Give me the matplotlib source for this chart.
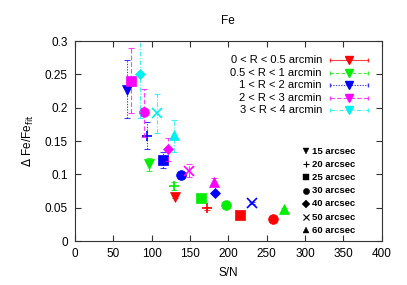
import matplotlib
matplotlib.use("Agg")
import matplotlib.pyplot as plt

plt.rcParams['font.family'] = ['Liberation Sans', 'DejaVu Sans']

# ---- data ----
region_labels = ["0 < R < 0.5 arcmin", "0.5 < R < 1 arcmin", "1 < R < 2 arcmin",
                 "2 < R < 3 arcmin", "3 < R < 4 arcmin"]
arcsec_labels = ["15 arcsec", "20 arcsec", "25 arcsec", "30 arcsec",
                 "40 arcsec", "50 arcsec", "60 arcsec"]

# per region: arcsec bin, S/N, value, lower error, upper error
red_bin = [15, 20, 25, 30]
red_snr = [130.4, 171.7, 215.5, 257.7]
red_val = [0.0665, 0.049, 0.039, 0.0325]
red_elo = [0.002, 0.002, 0.0015, 0.0015]
red_ehi = [0.002, 0.002, 0.0015, 0.0015]

green_bin = [15, 20, 25, 30, 60]
green_snr = [96.9, 128.6, 164.3, 196.4, 272.9]
green_val = [0.115, 0.083, 0.065, 0.054, 0.048]
green_elo = [0.0095, 0.0065, 0.002, 0.002, 0.002]
green_ehi = [0.009, 0.005, 0.002, 0.002, 0.002]

blue_bin = [15, 20, 25, 30, 40, 50]
blue_snr = [67.4, 94.3, 114.3, 138.2, 182.0, 230.8]
blue_val = [0.2265, 0.1575, 0.1215, 0.0985, 0.0725, 0.057]
blue_elo = [0.0415, 0.0195, 0.0125, 0.006, 0.003, 0.002]
blue_ehi = [0.0455, 0.0205, 0.0115, 0.0055, 0.003, 0.002]

magenta_bin = [25, 30, 40, 50, 60]
magenta_snr = [73.0, 90.4, 121.7, 149.0, 181.6]
magenta_val = [0.240, 0.194, 0.1375, 0.1055, 0.0885]
magenta_elo = [0.048, 0.038, 0.0175, 0.009, 0.0055]
magenta_ehi = [0.050, 0.034, 0.0165, 0.010, 0.0055]

cyan_bin = [40, 50, 60]
cyan_snr = [84.8, 107.3, 129.5]
cyan_val = [0.250, 0.1915, 0.1585]
cyan_elo = [0.065, 0.030, 0.0245]
cyan_ehi = [0.070, 0.0285, 0.023]

series = [
    (red_bin, red_snr, red_val, red_elo, red_ehi),
    (green_bin, green_snr, green_val, green_elo, green_ehi),
    (blue_bin, blue_snr, blue_val, blue_elo, blue_ehi),
    (magenta_bin, magenta_snr, magenta_val, magenta_elo, magenta_ehi),
    (cyan_bin, cyan_snr, cyan_val, cyan_elo, cyan_ehi),
]

# ---- styles ----
colors = ['#ff0000', '#00ee00', '#0000ff', '#ff00ff', '#00f0f0']
linestyles = ['-', (0, (3, 2)), (0, (1.2, 1.2)), (0, (4, 2)), (0, (4, 1.5, 1, 1.5))]
marker_for = {15: 'v', 20: '+', 25: 's', 30: 'o', 40: 'D', 50: 'x', 60: '^'}
size_for = {15: 6.5, 20: 7, 25: 6.5, 30: 7, 40: 5.5, 50: 7, 60: 6.5}
bins_order = [15, 20, 25, 30, 40, 50, 60]

fig = plt.figure(figsize=(4.07, 2.85), dpi=100)
ax = fig.add_axes([0.184, 0.154, 0.754, 0.702])

for (bins, snr, val, elo, ehi), c, ls in zip(series, colors, linestyles):
    for b, x, y, lo, hi in zip(bins, snr, val, elo, ehi):
        mk = marker_for[b]
        eb = ax.errorbar([x], [y], yerr=[[lo], [hi]], fmt='none', ecolor=c,
                         elinewidth=0.8, capsize=2.5, capthick=0.8, alpha=0.75,
                         clip_on=True)
        for ln in eb[2]:
            ln.set_linestyle(ls)
        ax.plot([x], [y], marker=mk, color=c, markersize=size_for[b],
                markeredgewidth=1.2 if mk in '+x' else 0.5,
                linestyle='none')

ax.set_xlim(0, 400)
ax.set_ylim(0, 0.3)
ax.set_xticks(range(0, 401, 50))
ax.set_yticks([0, 0.05, 0.1, 0.15, 0.2, 0.25, 0.3])
ax.set_yticklabels(['0', '0.05', '0.1', '0.15', '0.2', '0.25', '0.3'])
ax.tick_params(direction='in', length=4, width=0.8, top=True, right=True,
               labelsize=8.5, pad=5, colors='#333333', labelcolor='black')
for sp in ax.spines.values():
    sp.set_linewidth(0.8)
    sp.set_color('#333333')

ax.set_xlabel('S/N', fontsize=8.5, labelpad=5)
ax.set_ylabel(r'$\Delta$ Fe/Fe$_{\rm fit}$', fontsize=8.5, labelpad=6)
ax.set_title('Fe', fontsize=8.5, pad=12)

# ---- legend 1: regions (text right aligned, line sample with marker) ----
tr = ax.transAxes
y0, dy = 0.905, 0.063
for i, (lab, c, ls) in enumerate(zip(region_labels, colors, linestyles)):
    yy = y0 - i * dy
    ax.text(0.805, yy, lab, transform=tr, ha='right', va='center', fontsize=8)
    ax.plot([0.83, 0.955], [yy, yy], transform=tr, color=c, linestyle=ls,
            linewidth=0.8, alpha=0.75, clip_on=False)
    ax.plot([0.83, 0.955], [yy, yy], transform=tr, color=c, marker='|',
            markersize=3.5, linestyle='none', alpha=0.75, clip_on=False)
    ax.plot([0.8925], [yy], transform=tr, color=c, marker='v', markersize=5.5,
            linestyle='none', clip_on=False)

# ---- legend 2: arcsec bins ----
y1, dy1 = 0.45, 0.066
for i, (b, lab) in enumerate(zip(bins_order, arcsec_labels)):
    yy = y1 - i * dy1
    mk = marker_for[b]
    ax.plot([0.752], [yy], transform=tr, color='black', marker=mk,
            markersize=4.5,
            markeredgewidth=0.8 if mk in '+x' else 0.3, linestyle='none',
            clip_on=False)
    ax.text(0.772, yy, lab, transform=tr, ha='left', va='center',
            fontsize=6.8, fontweight='bold')

fig.savefig('out.png', dpi=100)
